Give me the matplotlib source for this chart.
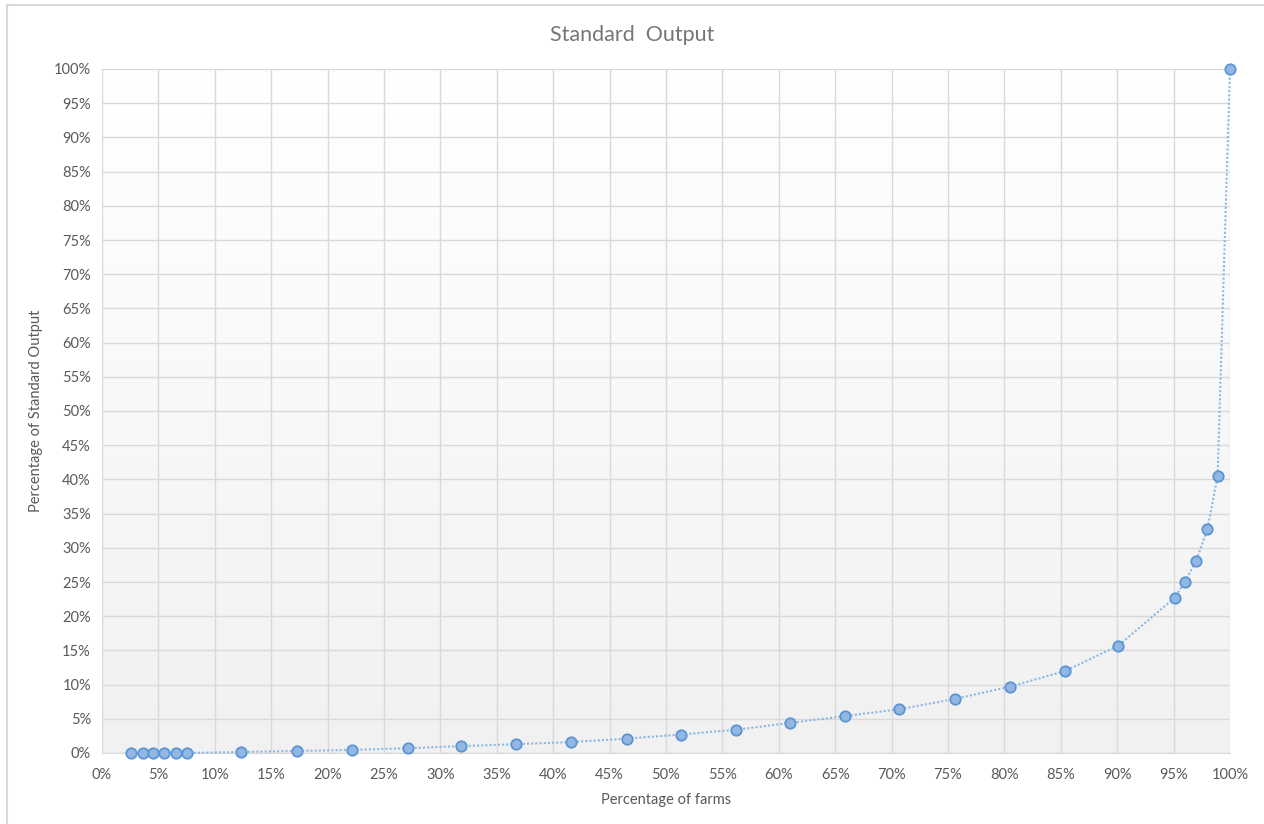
import numpy as np
import matplotlib.pyplot as plt
from matplotlib.colors import LinearSegmentedColormap
from matplotlib.ticker import MultipleLocator, FuncFormatter
from matplotlib.lines import Line2D

# Cumulative share of farms vs cumulative share of standard output (%)
farms_pct = [2.6, 3.6, 4.5, 5.5, 6.6, 7.5, 12.3, 17.3, 22.2, 27.1, 31.8, 36.7,
             41.6, 46.5, 51.3, 56.2, 61.0, 65.9, 70.7, 75.6, 80.5, 85.4, 90.1,
             95.1, 96.0, 97.0, 98.0, 98.9, 100.0]
output_pct = [0.0, 0.0, 0.0, 0.0, 0.0, 0.0, 0.15, 0.3, 0.45, 0.7, 1.0, 1.3,
              1.6, 2.1, 2.7, 3.4, 4.4, 5.4, 6.4, 7.9, 9.7, 12.0, 15.7,
              22.7, 25.0, 28.1, 32.7, 40.5, 100.0]

plt.rcParams['font.family'] = ['Lato', 'DejaVu Sans']
text_gray = '#595959'

fig = plt.figure(figsize=(12.64, 8.24), dpi=100)
ax = fig.add_axes([102 / 1264, 1 - 753 / 824, 1128 / 1264, 684 / 824])

# soft gradient behind the plot area: light gray at the bottom, white on top
grad = np.linspace(0.0, 1.0, 256).reshape(-1, 1)
bg_cmap = LinearSegmentedColormap.from_list('bg', ['#f1f1f1', '#ffffff'])
ax.imshow(grad, cmap=bg_cmap, aspect='auto', extent=[0, 100, 0, 100],
          origin='lower', zorder=0)

ax.plot(farms_pct, output_pct, linestyle=(0, (1, 1)), color='#8cb7e2', lw=1.5,
        marker='o', markersize=7.5, markerfacecolor='#93b7e3',
        markeredgecolor='#5b95d3', markeredgewidth=1.3, zorder=3,
        clip_on=False)

ax.set_xlim(0, 100)
ax.set_ylim(0, 100)
ax.xaxis.set_major_locator(MultipleLocator(5))
ax.yaxis.set_major_locator(MultipleLocator(5))
pct = FuncFormatter(lambda v, _: f'{v:.0f}%')
ax.xaxis.set_major_formatter(pct)
ax.yaxis.set_major_formatter(pct)
ax.grid(True, color='#d9d9d9', lw=1.0, zorder=1)
ax.set_axisbelow(True)
for s in ax.spines.values():
    s.set_visible(False)
ax.spines['bottom'].set_visible(True)
ax.spines['bottom'].set_color('#d9d9d9')
ax.tick_params(length=0, labelsize=10.5, colors=text_gray)
ax.tick_params(axis='x', pad=11)
ax.tick_params(axis='y', pad=8)

ax.set_xlabel('Percentage of farms', fontsize=10.5, color=text_gray, labelpad=8)
ax.set_ylabel('Percentage of Standard Output', fontsize=10.5, color=text_gray,
              labelpad=8)
fig.text(0.5, 1 - 35 / 824, 'Standard  Output', ha='center', va='center',
         fontsize=15.5, color='#767676')

# thin chart border along the left and top edges
fig.add_artist(Line2D([7 / 1264, 7 / 1264], [0, 1 - 5 / 824], color='#d9d9d9',
                      lw=1.5, transform=fig.transFigure))
fig.add_artist(Line2D([7 / 1264, 1], [1 - 5 / 824, 1 - 5 / 824], color='#d9d9d9',
                      lw=1.5, transform=fig.transFigure))

fig.savefig('out.png', dpi=100)
